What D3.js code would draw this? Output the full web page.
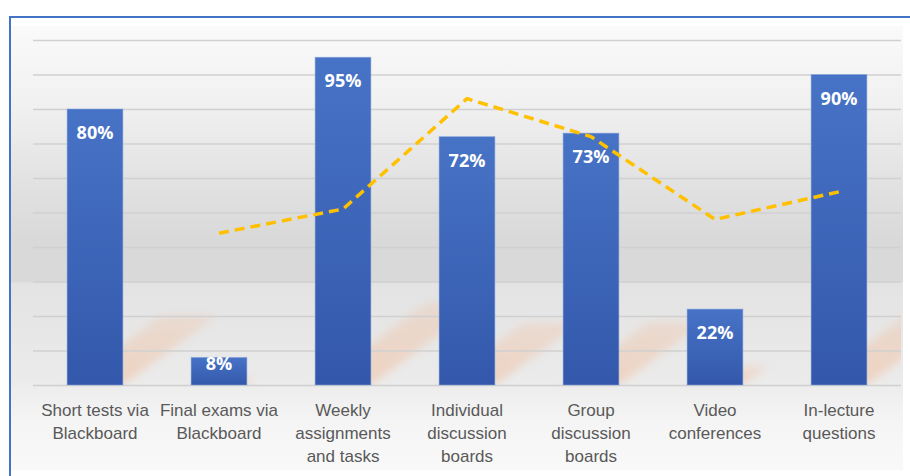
<!DOCTYPE html>
<html>
<head>
<meta charset="utf-8">
<script src="https://cdn.jsdelivr.net/npm/d3@7"></script>
<style>
  body { margin: 0; background: #fff; }
  svg { display: block; font-family: "Open Sans", "Noto Sans", sans-serif; }
</style>
</head>
<body>
<div id="chart"></div>
<script>
// chart data
var categories = [
  "Short tests via|Blackboard",
  "Final exams via|Blackboard",
  "Weekly|assignments|and tasks",
  "Individual|discussion|boards",
  "Group|discussion|boards",
  "Video|conferences",
  "In-lecture|questions"
];
var barValues = [0.80, 0.08, 0.95, 0.72, 0.73, 0.22, 0.90];
var lineValues = [null, 0.44, 0.51, 0.83, 0.72, 0.48, 0.56];

var width = 910, height = 476;
var plot = {left: 33, right: 901, top: 40, bottom: 385};

var svg = d3.select("#chart").append("svg")
    .attr("width", width)
    .attr("height", height);

var defs = svg.append("defs");

// background gradient of the chart area
var bg = defs.append("linearGradient")
    .attr("id", "bg").attr("x1", 0).attr("y1", 0).attr("x2", 0).attr("y2", 1);
[[0, "#fafafa"], [0.17, "#f1f1f1"], [0.35, "#e2e2e2"], [0.48, "#d9d9d9"],
 [0.575, "#d9d9d9"], [0.58, "#e3e3e3"], [0.8, "#ebebeb"], [0.83, "#efefef"],
 [0.9, "#f5f5f5"], [1, "#f9f9f9"]].forEach(function(s) {
  bg.append("stop").attr("offset", s[0]).attr("stop-color", s[1]);
});

var barGrad = defs.append("linearGradient")
    .attr("id", "barGrad").attr("x1", 0).attr("y1", 0).attr("x2", 0).attr("y2", 1);
barGrad.append("stop").attr("offset", 0).attr("stop-color", "#4773c7");
barGrad.append("stop").attr("offset", 1).attr("stop-color", "#3358ab");

// shadow fades out towards its top
var shadowGrad = defs.append("linearGradient")
    .attr("id", "shadowGrad").attr("x1", 0).attr("y1", 1).attr("x2", 0).attr("y2", 0);
shadowGrad.append("stop").attr("offset", 0).attr("stop-color", "#f2b48c").attr("stop-opacity", 0.55);
shadowGrad.append("stop").attr("offset", 1).attr("stop-color", "#f2b48c").attr("stop-opacity", 0.3);

defs.append("filter").attr("id", "blur")
    .attr("x", "-20%").attr("y", "-20%").attr("width", "140%").attr("height", "140%")
  .append("feGaussianBlur").attr("stdDeviation", 4);

defs.append("clipPath").attr("id", "plotClip")
  .append("rect")
    .attr("x", plot.left).attr("y", plot.top)
    .attr("width", plot.right - plot.left).attr("height", plot.bottom - plot.top);

// frame + background
svg.append("rect")
    .attr("x", 11).attr("y", 26).attr("width", 892).attr("height", 444)
    .attr("fill", "url(#bg)");
svg.append("rect")
    .attr("x", 10).attr("y", 17).attr("width", 910).attr("height", 470)
    .attr("fill", "none").attr("stroke", "#4472c4").attr("stroke-width", 2);

var x = d3.scaleBand()
    .domain(categories)
    .range([plot.left, plot.right])
    .paddingInner(0.55)
    .paddingOuter(0.275);

var y = d3.scaleLinear()
    .domain([0, 1])
    .range([plot.bottom, plot.top]);

// soft cast shadows behind bars
svg.append("g")
    .attr("clip-path", "url(#plotClip)")
  .append("g")
    .attr("filter", "url(#blur)")
  .selectAll("path")
  .data(barValues)
  .enter().append("path")
    .attr("fill", "url(#shadowGrad)")
    .attr("opacity", 0.8)
    .attr("d", function(d, i) {
      var x0 = x(categories[i]), x1 = x0 + x.bandwidth();
      var h = (y(0) - y(d)) * 0.25, dx = h * 1.36;
      return "M" + x0 + "," + y(0) + "L" + x1 + "," + y(0) +
             "L" + (x1 + dx) + "," + (y(0) - h) + "L" + (x0 + dx) + "," + (y(0) - h) + "Z";
    });

// gridlines
svg.append("g")
    .attr("class", "grid")
    .attr("transform", "translate(" + plot.left + ",0)")
    .call(d3.axisLeft(y).ticks(10).tickSize(-(plot.right - plot.left)).tickFormat(""))
    .call(function(g) { g.select(".domain").remove(); })
    .call(function(g) {
      g.selectAll("line").attr("stroke", "#d0d0d0").attr("stroke-width", 1.6);
    });

// bars
svg.append("g")
  .selectAll("rect")
  .data(barValues)
  .enter().append("rect")
    .attr("x", function(d, i) { return x(categories[i]); })
    .attr("y", function(d) { return y(d); })
    .attr("width", x.bandwidth())
    .attr("height", function(d) { return y(0) - y(d); })
    .attr("fill", "url(#barGrad)")
    .attr("stroke", "#8ea7dc")
    .attr("stroke-opacity", 0.5)
    .attr("stroke-width", 1);

// bar labels
svg.append("g")
  .selectAll("text")
  .data(barValues)
  .enter().append("text")
    .attr("x", function(d, i) { return x(categories[i]) + x.bandwidth() / 2; })
    .attr("y", function(d) { return y(d) + Math.min(30, (y(0) - y(d)) * 0.45); })
    .attr("text-anchor", "middle")
    .attr("fill", "#fff")
    .attr("font-size", "18px")
    .attr("font-weight", "bold")
    .text(function(d) { return Math.round(d * 100) + "%"; });

// dashed line series
var line = d3.line()
    .defined(function(d) { return d != null; })
    .x(function(d, i) { return x(categories[i]) + x.bandwidth() / 2; })
    .y(function(d) { return y(d); });

svg.append("path")
    .datum(lineValues)
    .attr("fill", "none")
    .attr("stroke", "#ffc000")
    .attr("stroke-width", 3.5)
    .attr("stroke-dasharray", "10,6")
    .attr("stroke-linejoin", "round")
    .attr("d", line);

// category axis labels
var xAxis = svg.append("g")
    .attr("transform", "translate(0," + plot.bottom + ")")
    .call(d3.axisBottom(x).tickSize(0).tickFormat(""));
xAxis.select(".domain").remove();

xAxis.selectAll(".tick")
  .append("text")
    .attr("fill", "#595959")
    .attr("font-size", "17px")
    .attr("text-anchor", "middle")
    .each(function(d) {
      var t = d3.select(this);
      d.split("|").forEach(function(s, k) {
        t.append("tspan").attr("x", 0).attr("y", 31 + k * 23).text(s);
      });
    });
</script>
</body>
</html>
